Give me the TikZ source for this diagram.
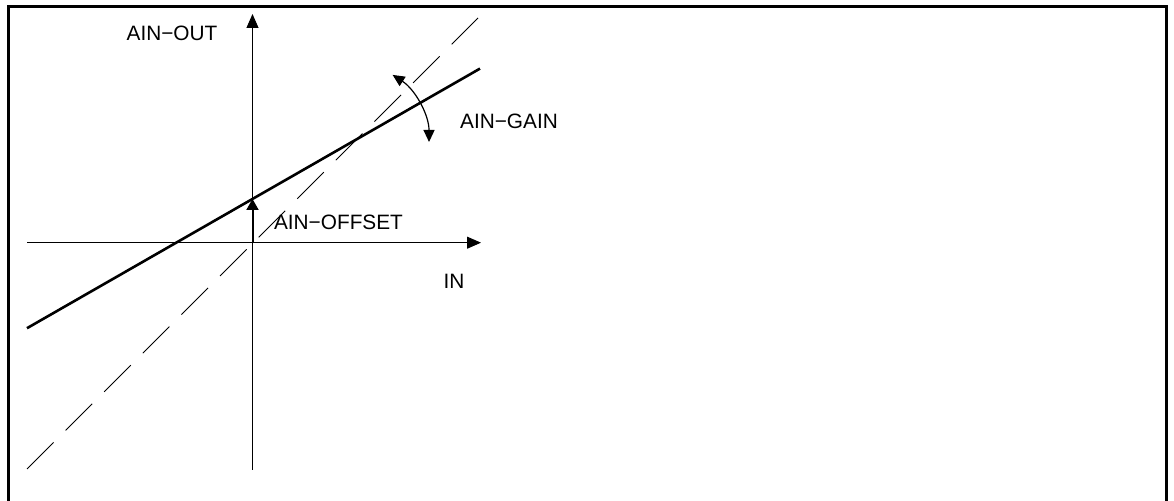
\documentclass[tikz,border=0pt]{standalone}
\usepackage{fontspec}
\setmainfont{Liberation Sans}
\usetikzlibrary{arrows.meta}
\begin{document}
\begin{tikzpicture}[x=0.5pt,y=-0.5pt,
  frame/.style={line width=1.5pt},
  axis/.style={line width=0.5pt,-{Triangle[length=7pt,width=6pt]}},
  curve/.style={line width=1.3pt},
  ideal/.style={line width=0.45pt,dash pattern=on 18.8pt off 8.5pt},
  offsetarrow/.style={line width=1pt,-{Triangle[length=5.5pt,width=6pt]}},
  gainarrow/.style={line width=0.6pt,{Triangle[length=6pt,width=5.5pt]}-{Triangle[length=6pt,width=5.5pt]}},
  lbl/.style={inner sep=0pt,font=\fontsize{10.4}{12}\selectfont}]
\useasboundingbox (0,0) rectangle (1174,501);
% frame (open at the bottom)
\coordinate (fbl) at (8,501);
\coordinate (ftl) at (8,6.5);
\coordinate (ftr) at (1166.5,6.5);
\coordinate (fbr) at (1166.5,501);
\draw[frame] (fbl) -- (ftl) -- (ftr) -- (fbr);
% axes
\coordinate (O) at (252.5,242.7);
\coordinate (xs) at (27,242.7);
\coordinate (xe) at (481,242.7);
\coordinate (ys) at (252.5,470);
\coordinate (ye) at (252.5,14);
\draw[axis] (xs) -- (xe);
\draw[axis] (ys) -- (ye);
% ideal (dashed) line
\coordinate (ds) at (27,469);
\coordinate (de) at (478,18);
\draw[ideal] (ds) -- (de);
% actual line
\coordinate (cs) at (27,328.2);
\coordinate (ce) at (480,68.6);
\draw[curve] (cs) -- (ce);
% offset arrow
\coordinate (off) at (252.5,199);
\draw[offsetarrow] (O) -- (off);
% gain arrow
\coordinate (gs) at (392.6,74.9);
\draw[gainarrow] (gs) arc[start angle=-57,end angle=0,radius=80];
% labels
\node[lbl] (out) at (172,33) {AIN−OUT};
\node[lbl] (gain) at (509,121) {AIN−GAIN};
\node[lbl] (offset) at (338.5,222) {AIN−OFFSET};
\node[lbl] (in) at (454,281) {IN};
\end{tikzpicture}
\end{document}
